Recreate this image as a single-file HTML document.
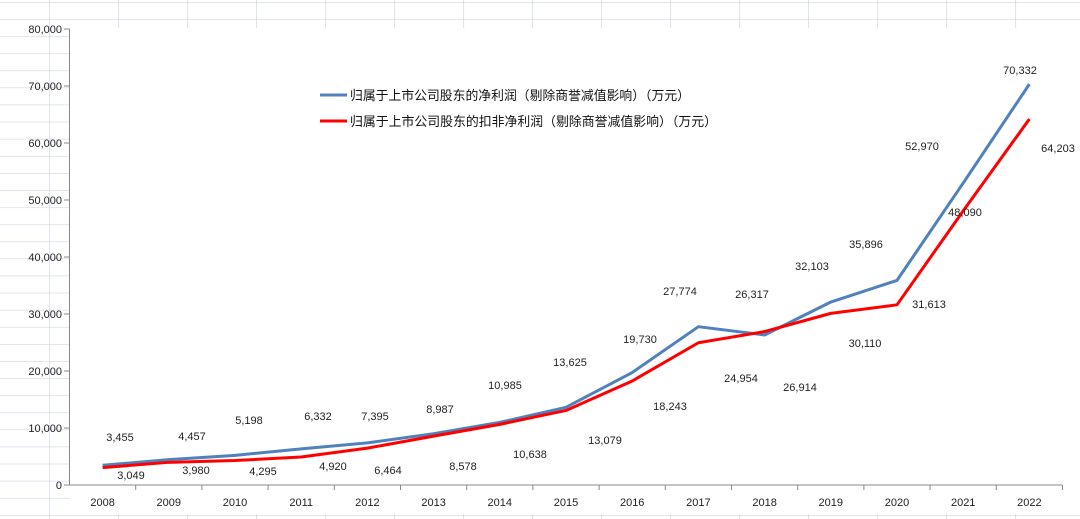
<!DOCTYPE html>
<html><head><meta charset="utf-8"><style>body{margin:0;background:#fff}svg{display:block}</style></head>
<body>
<svg width="1080" height="519" xmlns="http://www.w3.org/2000/svg" font-family="Liberation Sans, Noto Sans CJK SC, sans-serif">
<defs>
<pattern id="g" width="69" height="17.1" patternUnits="userSpaceOnUse" x="49.3" y="2">
<rect width="69" height="17.1" fill="#fff"/>
<line x1="0" y1="0" x2="69" y2="0" stroke="#d0d6e6" stroke-width="1.2"/>
<line x1="0" y1="0" x2="0" y2="17.1" stroke="#c6cde0" stroke-width="1.2"/>
</pattern>
</defs>
<rect width="1080" height="519" fill="url(#g)"/>
<rect x="70" y="28" width="1010" height="486" fill="#fff"/>
<g stroke="#888" stroke-width="1" fill="none">
<line x1="69.5" y1="29" x2="69.5" y2="485"/>
<line x1="69.5" y1="485" x2="1062" y2="485"/>
</g>
<g stroke="#888" stroke-width="1" id="yt"></g>
<g font-size="11" fill="#222" text-anchor="end" id="yl"></g>
<g font-size="11" fill="#222" text-anchor="middle" id="xl"></g>
<polyline id="bl" fill="none" stroke="#4f81bd" stroke-width="3" stroke-linejoin="round"/>
<polyline id="rl" fill="none" stroke="#ff0000" stroke-width="3" stroke-linejoin="round"/>
<g font-size="11" fill="#222" text-anchor="middle" id="dl"></g>
<line x1="320" y1="95" x2="347" y2="95" stroke="#4f81bd" stroke-width="3"/>
<line x1="320" y1="121" x2="347" y2="121" stroke="#ff0000" stroke-width="3"/>
<text x="350" y="100" font-size="13" fill="#111" textLength="340" lengthAdjust="spacingAndGlyphs">归属于上市公司股东的净利润（剔除商誉减值影响）（万元）</text>
<text x="350" y="126" font-size="13" fill="#111" textLength="367" lengthAdjust="spacingAndGlyphs">归属于上市公司股东的扣非净利润（剔除商誉减值影响）（万元）</text>
</svg>
<script>
const NS="http://www.w3.org/2000/svg";
function el(p,t,a,txt){const e=document.createElementNS(NS,t);for(const k in a)e.setAttribute(k,a[k]);if(txt!=null)e.textContent=txt;document.getElementById(p).appendChild(e);}
const Y=v=>485-v*0.0057, X=i=>69.5+66.2*(i+0.5);
for(let i=0;i<=8;i++){const y=485-57*i;el('yt','line',{x1:64,x2:69.5,y1:y,y2:y});el('yl','text',{x:62,y:y+4},(i*10000).toLocaleString('en-US'));}
for(let i=0;i<15;i++){const x=69.5+66.2*(i+1);el('yt','line',{x1:x,x2:x,y1:485,y2:490});el('xl','text',{x:X(i),y:506},2008+i);}
const b=[3455,4457,5198,6332,7395,8987,10985,13625,19730,27774,26317,32103,35896,52970,70332];
const r=[3049,3980,4295,4920,6464,8578,10638,13079,18243,24954,26914,30110,31613,48090,64203];
document.getElementById('bl').setAttribute('points',b.map((v,i)=>X(i)+','+Y(v)).join(' '));
document.getElementById('rl').setAttribute('points',r.map((v,i)=>X(i)+','+Y(v)).join(' '));
const bp=[[120,437],[192,436],[249,420],[318,416],[375,416],[440,409],[505,385],[570,362],[640,339],[680,291],[752,294],[812,266],[866,244],[922,146],[1020,70]];
const rp=[[131,475],[196,470],[263,471],[333,466],[388,470],[463,466],[530,454],[605,440],[670,406],[741,378],[800,387],[865,343],[929,304],[965,212],[1058,148]];
b.forEach((v,i)=>el('dl','text',{x:bp[i][0],y:bp[i][1]+4},v.toLocaleString('en-US')));
r.forEach((v,i)=>el('dl','text',{x:rp[i][0],y:rp[i][1]+4},v.toLocaleString('en-US')));
</script>
</body></html>
